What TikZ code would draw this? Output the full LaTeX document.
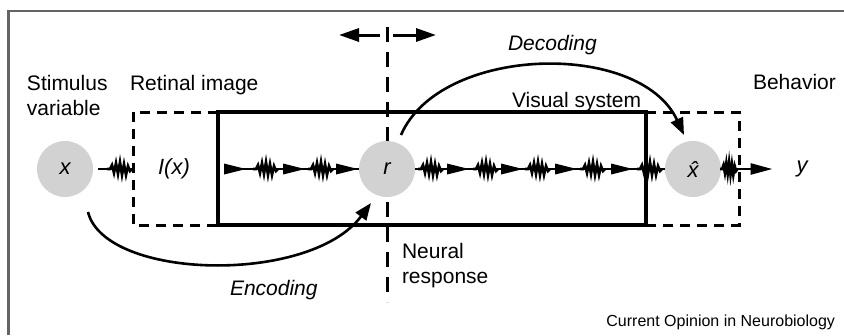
\documentclass[tikz,border=0pt]{standalone}
\usepackage{fontspec}
\setmainfont{Liberation Sans}
\usetikzlibrary{arrows.meta}
\definecolor{circgray}{RGB}{210,210,210}
\definecolor{framegray}{RGB}{100,100,100}

\begin{document}
\begin{tikzpicture}[x=1pt,y=-1pt,
  every node/.style={inner sep=0pt, outer sep=0pt},
  lbl/.style={anchor=base west, font=\fontsize{21}{25}\selectfont},
  ilbl/.style={anchor=base west, font=\fontsize{21}{25}\selectfont\itshape},
  var/.style={font=\fontsize{22}{26}\selectfont\itshape},
  unit/.style={circle, fill=circgray, minimum size=56pt, var},
  sbox/.style={line width=4pt},
  dbox/.style={line width=3pt, dash pattern=on 10pt off 7pt},
  chain/.style={line width=2.6pt},
  arc/.style={line width=2.6pt, -{Triangle[length=17pt,width=13pt]}},
  toparrow/.style={line width=3pt, -{Triangle[length=20pt,width=13pt]}},
  wiggle/.pic={\draw[line width=2.6pt, line join=miter]
      (0,0) -- (3,0) -- (5,-4) -- (7,4) -- (9,-6) -- (11,5) -- (13,-7)
      -- (15,6) -- (17,-5) -- (19,6) -- (21,-3) -- (23,2) -- (25,0);},
  tri/.pic={\fill (0,-5.5) -- (22,0) -- (0,5.5) -- cycle;}
]
\useasboundingbox (0,0) rectangle (844,335);

% frame
\draw[framegray, line width=2.4pt] (8.5,335) -- (8.5,11) -- (844,11);

% retinal image, visual system and behaviour boxes
\draw[dbox] (218,112) -- (133,112) -- (133,225) -- (218,225);
\draw[dbox] (646,112) -- (739,112) -- (739,225) -- (646,225);
\draw[sbox] (218,112) rectangle (646,225);

% boundary at the neural response
\draw[line width=3pt, dash pattern=on 15pt off 10pt] (387,27) -- (387,302);
\coordinate (mid) at (387,35);
\draw[toparrow] ([xshift=-7pt]mid) -- ([xshift=-48pt]mid);
\draw[toparrow] ([xshift=6pt]mid) -- ([xshift=49pt]mid);

% processing stages
\node[unit] (xc) at (65,169) {x};
\node[unit] (rc) at (387,169) {r};
\node[unit] (hc) at (693,169) {\^{x}};
\node[var] (ix) at (174,169) {I(x)};
\node[var] (yl) at (802,169) {y};

% signal chain
\draw[chain] ([xshift=5pt]xc.east) -- ([xshift=42pt]xc.east);
\draw[chain] ([xshift=39pt]ix.east) -- (rc.west);
\draw[chain] (rc.east) -- (hc.west);
\draw[chain, -{Triangle[length=22pt,width=11pt]}] (hc.east) -- ([xshift=-24pt]yl.west);

\foreach \p in {107,253,308,418,473,525,580,637}
  \pic at (\p,169) {wiggle};
\pic[xscale=0.7] at (720,169) {wiggle};
\foreach \p in {224,283,336,447,501,555,611}
  \pic at (\p,169) {tri};

% encoding and decoding
\draw[arc] ([shift={(23,43)}]xc.center) .. controls (105,280) and (310,285) .. ([shift={(-16,34)}]rc.center);
\draw[arc] ([shift={(14,-34)}]rc.center) .. controls (440,45) and (640,40) .. ([shift={(-9,-34)}]hc.center);

% labels
\node[lbl] (stim1) at (27,90) {Stimulus};
\node[lbl] (stim2) at (27,115) {variable};
\node[lbl] (ret) at (130,90) {Retinal image};
\node[lbl] (vis) at (512,107) {Visual system};
\node[lbl] (beh) at (753,89) {Behavior};
\node[ilbl] (dec) at (508,50) {Decoding};
\node[ilbl] (enc) at (230,295) {Encoding};
\node[lbl] (neur1) at (402,258) {Neural};
\node[lbl] (neur2) at (402,283) {response};
\node[anchor=base east, font=\fontsize{16}{19}\selectfont] (src) at (835,326) {Current Opinion in Neurobiology};
\end{tikzpicture}
\end{document}
